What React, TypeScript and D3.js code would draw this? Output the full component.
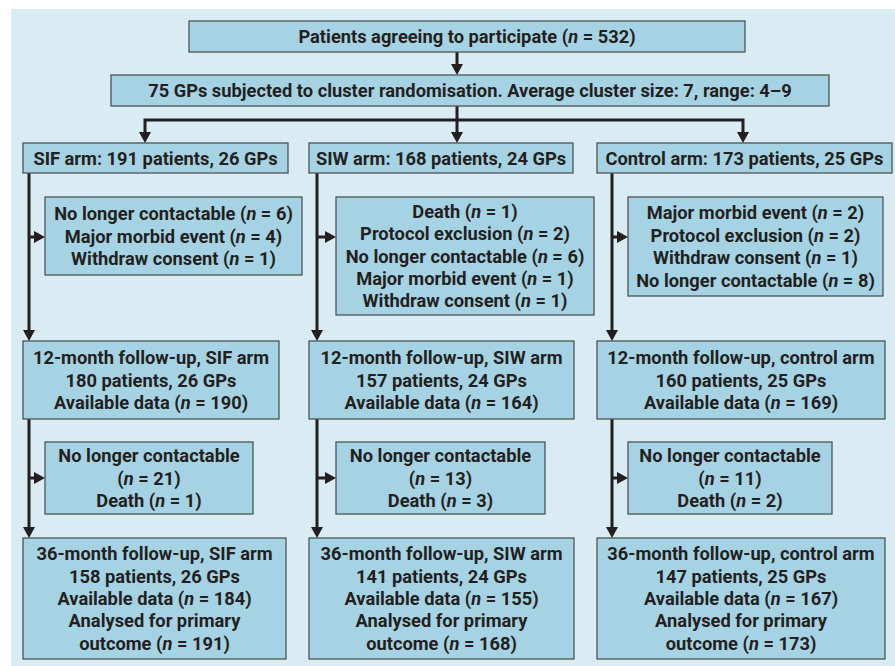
import React from 'react';
import * as d3 from 'd3';

// ---- data ----
const enrolled = 532;
const gpCount = 75;
const clusterAvg = 7;
const clusterRange = [4, 9];

const arms = ['SIF', 'SIW', 'Control'];
const armPatients = [191, 168, 173];
const armGPs = [26, 24, 25];

// first exclusion boxes (between randomisation and 12-month)
const exclusions12: [string, number][][] = [
  [['No longer contactable', 6], ['Major morbid event', 4], ['Withdraw consent', 1]],
  [['Death', 1], ['Protocol exclusion', 2], ['No longer contactable', 6], ['Major morbid event', 1], ['Withdraw consent', 1]],
  [['Major morbid event', 2], ['Protocol exclusion', 2], ['Withdraw consent', 1], ['No longer contactable', 8]],
];

const fu12Patients = [180, 157, 160];
const fu12Available = [190, 164, 169];

const lostContact36 = [21, 13, 11];
const deaths36 = [1, 3, 2];

const fu36Patients = [158, 141, 147];
const fu36Available = [184, 155, 167];
const fu36Analysed = [191, 168, 173];

// ---- layout ----
const W = 895;
const H = 666;
const BG = '#d9ecf4';
const BOX = '#a5d3e4';
const BORDER = '#4d5356';
const INK = '#231f20';
const FONT = 'Roboto, "Open Sans", sans-serif';
const FS = 18.3;
const LH = 22.4;

const cols = [
  { arrowX: 145, armX: 23, armW: 265, lineX: 29, exX: 45, exW: 257, ex2W: 208, fuX: 23, fuW: 256, fu36W: 263 },
  { arrowX: 457, armX: 309, armW: 264, lineX: 317, exX: 336, exW: 258, ex2W: 209, fuX: 309, fuW: 265, fu36W: 265 },
  { arrowX: 743, armX: 597, armW: 295, lineX: 612, exX: 628, exW: 255, ex2W: 204, fuX: 597, fuW: 288, fu36W: 288 },
];
const topBox = { x: 189, y: 21, w: 556, h: 31 };
const randBox = { x: 111, y: 75, w: 718, h: 31 };
const branchY = 120;
const armY = 143, armH = 30;
const ex1Y = 197, ex1H = [78, 118, 99];
const fu12Y = 341, fu12H = 78;
const ex2Y = 442, ex2H = 72;
const fu36Y = 538, fu36H = 121;

const nt = (label: string, n: number) => `${label} (n = ${n})`;

function Line({ text, x, y }: { text: string; x: number; y: number }) {
  // italic "n" in "(n = ...)"
  const parts = text.split(/(\(n =)/);
  return (
    <text x={x} y={y} textAnchor="middle" dy="0.36em" fontFamily={FONT} fontWeight={700} fontSize={FS} fill={INK}>
      {parts.map((p, i) =>
        p === '(n =' ? (
          <React.Fragment key={i}>
            <tspan>(</tspan>
            <tspan fontStyle="italic">n</tspan>
            <tspan> =</tspan>
          </React.Fragment>
        ) : (
          <tspan key={i}>{p}</tspan>
        )
      )}
    </text>
  );
}

function Box({ x, y, w, h, lines }: { x: number; y: number; w: number; h: number; lines: string[] }) {
  const cy = y + h / 2;
  const y0 = cy - ((lines.length - 1) * LH) / 2;
  return (
    <g>
      <rect x={x} y={y} width={w} height={h} fill={BOX} stroke={BORDER} strokeWidth={1.3} />
      {lines.map((l, i) => (
        <Line key={i} text={l} x={x + w / 2} y={y0 + i * LH} />
      ))}
    </g>
  );
}

const lineGen = d3.line<[number, number]>();

function downArrow(x: number, y: number) {
  // tip at (x, y)
  return `M${x - 6},${y - 11}L${x + 6},${y - 11}L${x},${y}Z`;
}
function rightArrow(x: number, y: number) {
  return `M${x - 11},${y - 6}L${x - 11},${y + 6}L${x},${y}Z`;
}

export default function App() {
  const paths: string[] = [];
  const heads: string[] = [];

  // top -> randomisation
  const cx = 457;
  paths.push(lineGen([[cx, topBox.y + topBox.h], [cx, randBox.y - 8]])!);
  heads.push(downArrow(cx, randBox.y));
  // randomisation -> branch
  paths.push(lineGen([[cx, randBox.y + randBox.h], [cx, armY - 8]])!);
  heads.push(downArrow(cx, armY));
  paths.push(lineGen([[cols[0].arrowX, armY - 8], [cols[0].arrowX, branchY], [cols[2].arrowX, branchY], [cols[2].arrowX, armY - 8]])!);
  heads.push(downArrow(cols[0].arrowX, armY));
  heads.push(downArrow(cols[2].arrowX, armY));

  cols.forEach((c) => {
    paths.push(lineGen([[c.lineX, armY + armH], [c.lineX, fu12Y - 8]])!);
    heads.push(downArrow(c.lineX, fu12Y));
    paths.push(lineGen([[c.lineX, fu12Y + fu12H], [c.lineX, fu36Y - 8]])!);
    heads.push(downArrow(c.lineX, fu36Y));
    const a1 = ex1Y + 40;
    paths.push(lineGen([[c.lineX, a1], [c.exX - 8, a1]])!);
    heads.push(rightArrow(c.exX, a1));
    const a2 = ex2Y + ex2H / 2;
    paths.push(lineGen([[c.lineX, a2], [c.exX - 8, a2]])!);
    heads.push(rightArrow(c.exX, a2));
  });

  const fuName = (i: number) => (i === 2 ? 'control' : arms[i]);

  return (
    <svg width={W} height={H} style={{ position: 'absolute', left: 0, top: 0, background: '#fff' }}>
      <rect x={11} y={9} width={W - 11} height={H - 9} fill={BG} />
      {paths.map((d, i) => (
        <path key={i} d={d} fill="none" stroke={INK} strokeWidth={3} />
      ))}
      {heads.map((d, i) => (
        <path key={'h' + i} d={d} fill={INK} />
      ))}

      <Box {...topBox} lines={[nt('Patients agreeing to participate', enrolled)]} />
      <Box
        {...randBox}
        lines={[`${gpCount} GPs subjected to cluster randomisation. Average cluster size: ${clusterAvg}, range: ${clusterRange[0]}\u2013${clusterRange[1]}`]}
      />

      {cols.map((c, i) => (
        <g key={i}>
          <Box x={c.armX} y={armY} w={c.armW} h={armH} lines={[`${arms[i]} arm: ${armPatients[i]} patients, ${armGPs[i]} GPs`]} />
          <Box x={c.exX} y={ex1Y} w={c.exW} h={ex1H[i]} lines={exclusions12[i].map(([l, n]) => nt(l, n))} />
          <Box
            x={c.fuX}
            y={fu12Y}
            w={c.fuW}
            h={fu12H}
            lines={[
              `12-month follow-up, ${fuName(i)} arm`,
              `${fu12Patients[i]} patients, ${armGPs[i]} GPs`,
              nt('Available data', fu12Available[i]),
            ]}
          />
          <Box
            x={c.exX}
            y={ex2Y}
            w={c.ex2W}
            h={ex2H}
            lines={['No longer contactable', `(n = ${lostContact36[i]})`, nt('Death', deaths36[i])]}
          />
          <Box
            x={c.fuX}
            y={fu36Y}
            w={c.fu36W}
            h={fu36H}
            lines={[
              `36-month follow-up, ${fuName(i)} arm`,
              `${fu36Patients[i]} patients, ${armGPs[i]} GPs`,
              nt('Available data', fu36Available[i]),
              'Analysed for primary',
              `outcome (n = ${fu36Analysed[i]})`,
            ]}
          />
        </g>
      ))}
    </svg>
  );
}
